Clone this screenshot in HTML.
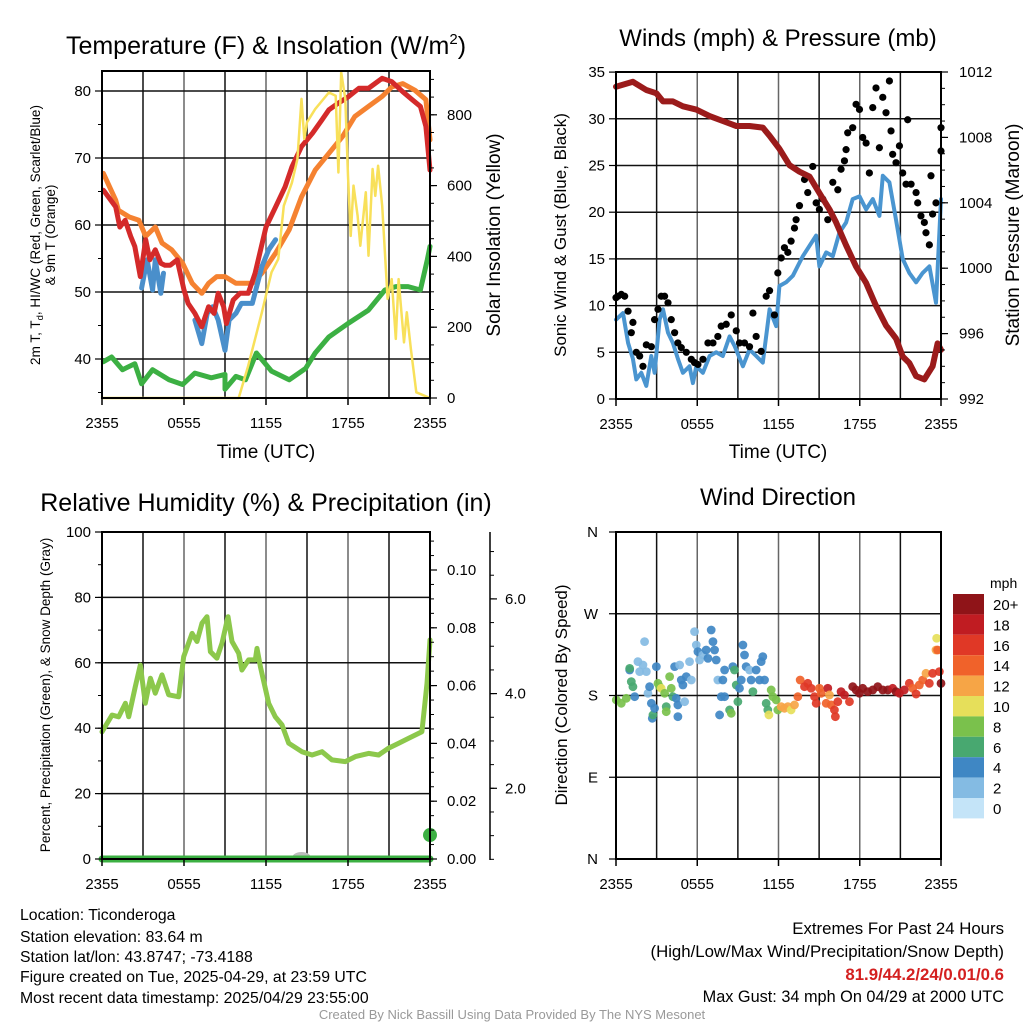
<!DOCTYPE html>
<html><head><meta charset="utf-8"><style>
html,body{margin:0;padding:0;background:#fff;}
svg{display:block;font-family:"Liberation Sans",Arial,sans-serif;}
</style></head><body>
<svg id="chart" xmlns="http://www.w3.org/2000/svg" width="1024" height="1024" viewBox="0 0 1024 1024">
<rect width="1024" height="1024" fill="#fff"/>
<g id="grids"></g>
<g id="series"></g>
<g id="frames"></g>
<text x="266" y="54" font-size="25" text-anchor="middle">Temperature (F) &amp; Insolation (W/m<tspan font-size="15" dy="-10">2</tspan><tspan dy="10">)</tspan></text>
<text x="778" y="46" font-size="24" text-anchor="middle">Winds (mph) &amp; Pressure (mb)</text>
<text x="266" y="511" font-size="25" text-anchor="middle">Relative Humidity (%) &amp; Precipitation (in)</text>
<text x="778" y="505" font-size="24" text-anchor="middle">Wind Direction</text>
<text x="266" y="458" font-size="19" text-anchor="middle">Time (UTC)</text>
<text x="778" y="458" font-size="19" text-anchor="middle">Time (UTC)</text>
<text transform="translate(40,235) rotate(-90)" font-size="13.5" text-anchor="middle">2m T, T<tspan font-size="9.5" dy="3">d</tspan><tspan dy="-3">, HI/WC (Red, Green, Scarlet/Blue)</tspan></text>
<text transform="translate(55,235) rotate(-90)" font-size="13.5" text-anchor="middle">&amp; 9m T (Orange)</text>
<text transform="translate(500,235) rotate(-90)" font-size="19" text-anchor="middle">Solar Insolation (Yellow)</text>
<text transform="translate(566,235) rotate(-90)" font-size="17" text-anchor="middle">Sonic Wind &amp; Gust (Blue, Black)</text>
<text transform="translate(1019,235) rotate(-90)" font-size="19" text-anchor="middle">Station Pressure (Maroon)</text>
<text transform="translate(50,695) rotate(-90)" font-size="13.5" text-anchor="middle">Percent, Precipitation (Green), &amp; Snow Depth (Gray)</text>
<text transform="translate(567,695) rotate(-90)" font-size="17" text-anchor="middle">Direction (Colored By Speed)</text>
<text x="990" y="588" font-size="14">mph</text>
<g font-size="15.8">
<text x="20" y="920">Location: Ticonderoga</text>
<text x="20" y="942">Station elevation: 83.64 m</text>
<text x="20" y="962">Station lat/lon: 43.8747; -73.4188</text>
<text x="20" y="982">Figure created on Tue, 2025-04-29, at 23:59 UTC</text>
<text x="20" y="1003">Most recent data timestamp: 2025/04/29 23:55:00</text>
</g>
<g font-size="16.8" text-anchor="end">
<text x="1004" y="934">Extremes For Past 24 Hours</text>
<text x="1004" y="957">(High/Low/Max Wind/Precipitation/Snow Depth)</text>
<text x="1004" y="980" fill="#d42020" font-weight="bold">81.9/44.2/24/0.01/0.6</text>
<text x="1004" y="1002" font-size="16.3">Max Gust: 34 mph On 04/29 at 2000 UTC</text>
</g>
<text x="512" y="1019" font-size="13" fill="#999" text-anchor="middle">Created By Nick Bassill Using Data Provided By The NYS Mesonet</text>
</svg>
<script>
// ---- Panel 1 data ----
const tempTimes=[0.1,1.0,1.3,1.7,2.1,2.4,2.8,3.2,3.5,3.9,4.3,4.6,5.0,5.5,6.0,6.3,6.8,7.3,7.8,8.2,8.5,8.9,9.1,9.6,10.1,10.7,11.2,12.0,12.7,13.4,13.9,14.6,15.4,16.1,16.6,17.3,18.0,18.8,19.5,20.5,21.2,22.0,22.7,23.3,23.7,24.0];
const tempValues=[65.2,62.7,59.7,60.7,58.3,56.8,52.3,57.8,54.8,56.3,54.3,54.0,54.0,54.8,50.3,48.3,46.8,44.8,47.8,46.8,49.8,47.8,45.3,48.8,49.8,49.8,52.8,59.7,62.7,65.7,68.7,71.7,73.7,75.7,77.2,78.2,79.1,80.4,80.4,81.9,81.4,79.9,78.7,77.7,74.7,68.2];
const temp9Times=[0.1,1.0,1.2,2.0,2.7,3.2,3.9,4.4,5.1,5.9,6.6,7.3,7.8,8.4,9.0,9.8,10.5,11.0,11.7,12.7,13.7,14.6,15.6,16.6,17.6,18.5,19.5,20.5,21.2,22.0,22.9,23.7,24.0];
const temp9Values=[67.7,63.7,62.2,61.2,60.7,58.3,59.7,57.3,56.3,54.3,51.3,49.8,51.3,52.3,52.3,51.3,51.3,51.3,52.8,55.8,59.3,64.2,68.2,70.7,73.2,76.2,77.7,79.2,80.6,81.1,80.1,78.7,72.7];
const hiwcTimes1=[2.9,3.3,3.7,3.9,4.3,4.5];
const hiwcValues1=[50.6,54.8,50.3,54.8,49.8,52.8];
const hiwcTimes2=[6.8,7.3,7.7,8.1,8.5,9.0,9.3,9.8,10.2,11.0,11.7,12.2,12.7];
const hiwcValues2=[45.8,42.3,46.8,47.8,45.8,41.3,45.8,46.8,48.3,48.3,53.8,56.3,57.8];
const dewTimes=[0.1,0.7,1.5,2.4,2.9,3.7,4.9,5.9,6.8,8.0,9.0,9.0,9.8,10.5,11.3,12.4,13.7,14.9,15.6,16.6,18.0,19.5,20.7,21.5,22.4,23.3,23.8,24.0];
const dewValues=[39.6,40.3,38.4,39.3,36.3,38.4,36.9,36.2,37.9,37.2,37.7,35.5,37.4,36.9,40.9,38.2,36.9,38.6,40.9,43.3,45.3,47.3,50.3,50.8,50.8,50.3,54.8,56.8];
const solarTimes=[0,7.3,10.0,10.7,11.7,12.4,12.9,13.3,13.9,14.3,14.6,14.8,15.0,15.6,16.6,17.1,17.3,17.5,17.8,18.0,18.2,18.4,18.7,18.9,19.3,19.5,19.8,20.0,20.2,20.5,20.9,21.2,21.5,21.7,22.1,22.3,22.6,23.0,24.0];
const solarValues=[0,0,0,91,242,355,393,543,609,675,845,732,779,816,863,854,637,920,845,628,458,600,515,430,581,402,647,571,656,543,280,336,167,336,157,242,138,16,0];
// ---- Panel 2 data ----
const windTimes=[0,0.52,0.89,1.25,1.5,1.87,2.24,2.61,2.85,3.22,3.47,3.84,4.2,4.57,4.94,5.43,5.68,5.93,6.42,6.91,7.4,7.89,8.39,8.75,9.37,9.86,10.35,10.84,11.34,11.83,12.07,12.56,13.06,13.55,13.8,14.29,14.78,15.02,15.52,16.01,16.5,16.99,17.48,17.98,18.47,18.96,19.45,19.7,20.19,20.68,21.17,21.66,22.16,22.65,23.14,23.63,24.0];
const windValues=[8.5,9.2,6.0,4.3,2.1,2.8,1.4,4.6,2.8,8.5,9.6,7.1,6.0,4.3,2.8,3.5,1.7,3.5,2.8,4.6,5.0,4.6,6.7,5.7,3.5,5.3,4.6,3.9,9.6,7.8,12.1,12.5,13.2,14.6,15.3,16.4,17.5,14.2,15.7,15.3,17.8,18.9,21.4,21.7,20.3,21.4,19.6,23.9,23.2,19.2,15.0,13.5,12.5,13.5,14.2,10.3,21.4];
const gustTimes=[0,0.15,0.39,0.64,0.89,1.13,1.25,1.5,1.75,1.99,2.24,2.61,2.85,3.1,3.34,3.59,3.84,4.08,4.33,4.57,4.82,5.19,5.56,5.8,6.05,6.42,6.79,7.16,7.52,7.77,8.14,8.51,8.88,9.12,9.49,9.86,10.11,10.35,10.72,11.09,11.34,11.7,11.95,12.2,12.44,12.69,12.93,13.18,13.3,13.55,13.92,14.16,14.53,14.78,15.02,15.27,15.64,16.01,16.38,16.62,16.87,16.99,17.11,17.48,17.73,17.98,18.22,18.47,18.71,18.96,19.2,19.45,19.7,19.94,20.19,20.31,20.43,20.68,20.93,21.17,21.42,21.54,21.79,22.16,22.28,22.52,22.77,22.89,23.14,23.26,23.38,23.63,24.0,24.0];
const gustValues=[10.85,11.0,11.2,11.0,9.4,7.1,8.2,5.0,4.6,3.5,5.8,5.6,8.5,9.6,11.0,11.0,10.3,8.5,7.1,6.0,5.5,5.0,4.25,3.9,3.7,4.25,6.0,6.0,6.7,7.8,8.0,9.0,7.3,6.0,6.0,5.6,9.2,6.7,5.1,11.0,11.6,9.0,13.5,15.1,16.2,15.7,16.9,18.3,19.2,20.7,23.5,22.1,24.9,21.0,20.3,21.4,19.2,23.2,22.4,24.6,25.5,26.7,28.5,29.05,31.55,31.0,28.0,27.4,24.2,31.2,33.3,26.9,32.3,30.65,34.05,28.7,26.2,25.3,27.1,24.2,23.0,29.9,23.0,22.1,21.0,19.6,18.9,17.8,16.5,23.9,19.8,21.0,29.05,26.55];
const presTimes=[0,1.25,2.24,2.98,3.47,4.2,4.94,5.93,6.91,7.89,8.88,9.86,10.84,11.34,12.07,12.81,13.55,14.29,15.02,15.76,16.25,16.99,17.73,18.47,19.2,19.94,20.68,21.17,21.66,22.16,22.77,23.38,23.75,24.0];
const presValues=[1011.1,1011.4,1010.9,1010.7,1010.2,1010.2,1009.9,1009.7,1009.3,1009.0,1008.7,1008.7,1008.6,1008.1,1007.3,1006.3,1005.9,1005.6,1004.6,1003.6,1002.8,1001.4,1000.1,999.1,997.7,996.5,995.7,994.6,994.2,993.4,993.2,994.0,995.4,995.0];
// ---- Panel 3 data ----
const rhTimes=[0,0.73,1.22,1.71,1.95,2.44,2.8,3.17,3.54,3.9,4.39,4.88,5.61,5.98,6.59,6.95,7.32,7.68,7.93,8.41,8.78,9.22,9.51,10.0,10.24,10.73,11.22,11.34,11.59,12.2,12.68,13.17,13.66,14.63,15.37,16.1,16.83,17.8,18.54,19.51,20.24,20.98,21.71,22.44,23.41,23.78,24.0];
const rhValues=[38.9,44.0,43.5,47.6,43.5,52.7,59.3,47.6,55.3,50.7,56.3,50.2,49.6,61.9,69.0,66.5,72.1,74.1,63.4,61.4,66.0,74.1,66.5,62.9,57.8,60.9,60.9,64.4,58.8,47.6,43.5,41.0,35.4,32.8,31.8,32.8,30.3,29.8,31.3,32.3,31.8,33.9,35.4,36.9,38.9,53.7,67.0];
const precipTimes=[0,24];
const precipValues=[0,0];
const precipDotTime=[24];
const precipDotValue=[0.0083];
const snowBumpTime=[14.6];
// ---- Panel 4 data ----
const dirTimes=[0.02,0.39,0.76,1.01,1.01,1.13,1.25,1.38,1.62,1.75,1.99,2.11,2.24,2.36,2.48,2.61,2.68,2.73,2.85,2.98,3.10,3.22,3.34,3.59,3.71,3.71,3.96,4.08,4.2,4.33,4.45,4.57,4.57,4.7,4.82,4.94,5.07,5.19,5.43,5.56,5.8,5.93,6.05,6.17,6.42,6.66,6.79,7.03,7.16,7.28,7.4,7.52,7.65,7.77,7.89,8.02,8.02,8.39,8.51,8.63,8.75,8.88,9.0,9.12,9.25,9.37,9.49,9.61,9.86,9.98,10.11,10.35,10.6,10.72,10.84,10.97,11.09,11.21,11.29,11.46,11.58,11.83,11.95,12.2,12.44,12.69,12.93,13.18,13.43,13.6,13.92,14.16,14.41,14.66,14.78,15.02,15.15,15.52,15.64,15.76,15.89,16.13,16.2,16.38,16.62,16.87,17.24,17.48,17.73,17.98,18.22,18.59,18.96,19.33,19.7,20.07,20.43,20.68,20.93,21.29,21.66,21.91,22.16,22.4,22.65,22.89,23.14,23.38,23.63,23.68,23.75,23.88,24.0];
const dirValues=[175.1,171.4,176.9,208.1,209.9,195.3,189.7,178.7,217.3,206.3,213.6,239.3,206.3,182.4,189.7,171.4,154.9,158.6,165.9,211.8,193.4,189.7,187.9,182.4,167.7,162.2,200.8,187.9,178.7,211.8,176.9,169.6,156.7,213.6,197.1,191.6,173.2,200.8,217.3,197.1,250.3,235.6,228.3,219.1,224.6,230.1,220.9,252.1,239.3,230.1,219.1,197.1,158.6,178.7,197.1,208.1,178.7,164.1,160.4,211.8,208.1,191.6,173.2,187.9,197.1,235.6,224.6,211.8,208.1,197.1,184.3,208.1,197.1,217.3,222.8,197.1,171.4,164.1,158.6,186.1,178.7,175.1,164.1,167.7,165.9,167.7,164.1,169.6,178.7,197.1,189.7,193.4,188.0,178.7,171.4,188.0,182.4,171.4,188.0,180.6,169.6,164.1,156.7,173.2,184.3,180.6,173.2,189.7,186.1,182.4,187.9,184.3,186.1,189.7,186.1,186.1,187.9,184.3,182.4,186.1,193.4,187.9,181.6,191.6,197.1,204.4,193.4,204.4,230.1,243.0,230.1,206.3,193.4];
const dirSpeeds=[8,8,8,4,6,6,6,4,2,2,2,2,2,2,4,4,4,6,4,4,8,8,10,8,6,8,8,8,6,4,4,4,4,2,4,4,2,4,2,2,2,2,4,2,2,4,4,4,4,4,4,2,4,4,4,4,4,6,8,4,6,6,6,4,4,4,4,4,2,4,6,4,4,4,4,4,6,6,10,8,8,8,8,12,12,12,10,12,14,14,16,16,16,16,16,14,14,14,18,12,14,16,16,16,18,18,16,20,20,20,20,20,20,20,20,20,18,20,18,18,16,14,16,14,14,12,16,16,12,10,14,16,20];
const speedLabels=["20+","18","16","14","12","10","8","6","4","2","0"];
const speedColors=["#8f1418","#c01c22","#e03826","#f0622a","#f6a546","#e6df5a","#7ac14c","#48a870","#3f87c4","#84bbe3","#c4e4f8"];
const timeTickLabels=["2355","0555","1155","1755","2355"];
const timeTicks=[0,6,12,18,24];
const tempTicks=[40,50,60,70,80];
const solarTicks=[0,200,400,600,800];
const windTicks=[0,5,10,15,20,25,30,35];
const presTicks=[992,996,1000,1004,1008,1012];
const rhTicks=[0,20,40,60,80,100];
const precipTicks=[0,0.02,0.04,0.06,0.08,0.10];
const snowTicks=[2,4,6];
const dirTicks=[0,90,180,270,360];
const dirTickLabels=["N","E","S","W","N"];

const NS="http://www.w3.org/2000/svg";
const svg=document.getElementById('chart');
const G=document.getElementById('grids'),S=document.getElementById('series'),F=document.getElementById('frames');
function mk(tag,attrs,parent){const e=document.createElementNS(NS,tag);for(const k in attrs)e.setAttribute(k,attrs[k]);(parent||svg).appendChild(e);return e;}
const P1={x0:102,x1:430,y0:71,y1:398},P2={x0:616,x1:941,y0:72,y1:399},P3={x0:102,x1:430,y0:532,y1:859},P4={x0:616,x1:941,y0:532,y1:859};
const xT=(p,t)=>p.x0+t*(p.x1-p.x0)/24;
const yTemp=v=>91+(80-v)*6.7;
const ySolar=v=>398-v*0.354;
const yWind=v=>399-v*9.34;
const yPres=v=>399-(v-992)*16.35;
const yRH=v=>859-v*3.27;
const yPrec=v=>859-v*2890;
const ySnow=v=>883-v*47.35;
const yDir=v=>859-v*327/360;

function grid(p,name,hy){
  for(let h=3;h<24;h+=3){const l=mk('line',{x1:xT(p,h),x2:xT(p,h),y1:p.y0,y2:p.y1,stroke:h%6?'#111':'#666','stroke-width':1.5},G);
    
    }
  hy.forEach(y=>{const l=mk('line',{x1:p.x0,x2:p.x1,y1:y,y2:y,stroke:'#111','stroke-width':1.5},G);
    
    });
  const r=mk('rect',{x:p.x0,y:p.y0,width:p.x1-p.x0,height:p.y1-p.y0,fill:'none',stroke:'#000','stroke-width':2},F);
  
  
  timeTicks.forEach((t,i)=>{const x=xT(p,t);
    const tk=mk('line',{x1:x,x2:x,y1:p.y1,y2:p.y1+7,stroke:'#000','stroke-width':1.5},F);
    
    
    const tx=mk('text',{x:x,y:p.y1+30,'font-size':15,'text-anchor':'middle'},F);tx.textContent=timeTickLabels[i];
    
    });
}
function yAxis(name,x,vals,fn,labels,side,minorStep,lo,hi,dx){
  vals.forEach((v,i)=>{const y=fn(v);
    const tk=mk('line',{x1:x,x2:x+(side<0?-7:7),y1:y,y2:y,stroke:'#000','stroke-width':1.2},F);
    
    
    const tx=mk('text',{x:x+(side<0?-(dx||11):(dx||11)),y:y+5,'font-size':15,'text-anchor':side<0?'end':'start'},F);tx.textContent=labels[i];
    
    });
  if(minorStep){for(let v=lo;v<=hi+1e-9;v+=minorStep){const y=fn(v);
    const tk=mk('line',{x1:x,x2:x+(side<0?-4:4),y1:y,y2:y,stroke:'#000','stroke-width':1},F);
    
    }}
}
grid(P1,'temp',tempTicks.map(yTemp));
grid(P2,'wind',windTicks.slice(1,7).map(yWind));
grid(P3,'rh',[20,40,60,80].map(yRH));
grid(P4,'direction',[90,180,270].map(yDir));
yAxis('temp-y',P1.x0,tempTicks,yTemp,tempTicks.map(String),-1,5,35,80);
yAxis('solar-y',P1.x1,solarTicks,ySolar,solarTicks.map(String),1,50,0,900,17);
yAxis('wind-y',P2.x0,windTicks,yWind,windTicks.map(String),-1,0,0,0);
yAxis('pres-y',P2.x1,presTicks,yPres,presTicks.map(String),1,1,992,1012,18);
yAxis('rh-y',P3.x0,rhTicks,yRH,rhTicks.map(String),-1,10,0,100);
yAxis('precip-y',P3.x1,precipTicks,yPrec,precipTicks.map(v=>v.toFixed(2)),1,0.005,0,0.11,17);
yAxis('dir-y',P4.x0,dirTicks,yDir,dirTickLabels,-1,0,0,0,18);
const sp=mk('line',{x1:490,x2:490,y1:532,y2:860,stroke:'#000','stroke-width':1.5},F);


yAxis('snow-y',490,snowTicks,ySnow,snowTicks.map(v=>v.toFixed(1)),1,0.5,0.5,7,15);

function line(name,ts,vs,p,fy,color,w,parent){
  const d=ts.map((t,i)=>(i?'L':'M')+xT(p,t).toFixed(1)+','+fy(vs[i]).toFixed(1)).join('');
  const e=mk('path',{d:d,fill:'none',stroke:color,'stroke-width':w,'stroke-linejoin':'round','stroke-linecap':'round'},parent||S);
  
  
  return e;
}
line('dewpoint-line',dewTimes,dewValues,P1,yTemp,'#3cb043',5);
line('temp-9m-line',temp9Times,temp9Values,P1,yTemp,'#f58231',5);
line('hiwc-line-1',hiwcTimes1,hiwcValues1,P1,yTemp,'#4a8fcb',5);
line('hiwc-line-2',hiwcTimes2,hiwcValues2,P1,yTemp,'#4a8fcb',5);
line('temp-2m-line',tempTimes,tempValues,P1,yTemp,'#d42a2a',5);
line('solar-line',solarTimes,solarValues,P1,ySolar,'#f8e05a',2.5);
line('wind-line',windTimes,windValues,P2,yWind,'#4a95d0',4);
gustTimes.forEach((t,i)=>{const c=mk('circle',{cx:xT(P2,t),cy:yWind(gustValues[i]),r:3.6,fill:'#000'},S);
  
  });
line('pressure-line',presTimes,presValues,P2,yPres,'#9b1b1b',6);
line('rh-line',rhTimes,rhValues,P3,yRH,'#8cc84b',5);
const sb=mk('ellipse',{cx:xT(P3,snowBumpTime[0]),cy:857,rx:9,ry:5,fill:'#bbb'},S);


line('precip-line',precipTimes,precipValues,P3,yPrec,'#3cb043',7);
const pd=mk('circle',{cx:xT(P3,precipDotTime[0]),cy:yPrec(precipDotValue[0]),r:7,fill:'#3cb043'},S);


function spColor(s){const idx=Math.min(10,Math.max(0,10-Math.round(s/2)));return speedColors[idx];}
dirTimes.forEach((t,i)=>{const c=mk('circle',{cx:xT(P4,Math.min(24,t)),cy:yDir(dirValues[i]),r:4.4,fill:spColor(dirSpeeds[i]),'fill-opacity':0.92},S);
  
  });
speedLabels.forEach((l,i)=>{const y=594+i*20.4;
  const r=mk('rect',{x:953,y:y,width:31,height:20.4,fill:speedColors[i]},F);
  
  
  const t=mk('text',{x:993,y:y+16,'font-size':15},F);t.textContent=l;
  
  });
</script>
</body></html>
